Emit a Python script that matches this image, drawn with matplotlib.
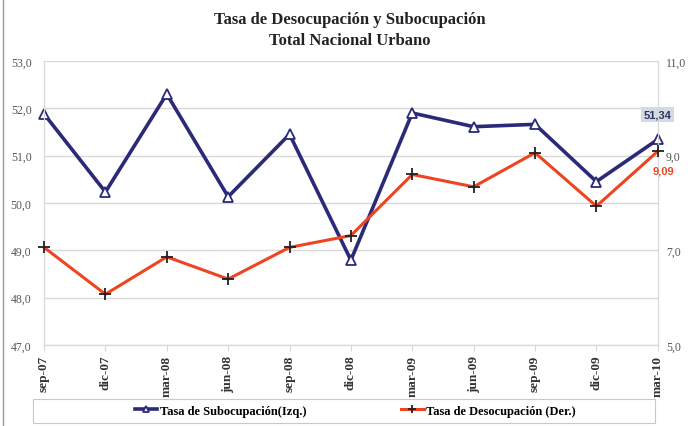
import numpy as np
import matplotlib.pyplot as plt
from matplotlib.patches import Rectangle

periods = ['sep-07', 'dic-07', 'mar-08', 'jun-08', 'sep-08', 'dic-08',
           'mar-09', 'jun-09', 'sep-09', 'dic-09', 'mar-10']
subocupacion = [51.88, 50.23, 52.30, 50.13, 51.45, 48.79, 51.90, 51.61, 51.66, 50.45, 51.34]
desocupacion = [7.06, 6.07, 6.86, 6.39, 7.06, 7.31, 8.60, 8.34, 9.06, 7.93, 9.09]

left_ticks = [47, 48, 49, 50, 51, 52, 53]
right_ticks = [5, 7, 9, 11]

navy = '#2B2A78'
orange = '#EE4520'
grid_gray = '#D8D8D8'
text_gray = '#555555'
serif = ['Liberation Serif', 'DejaVu Serif']

fig = plt.figure(figsize=(6.99, 4.27), dpi=100, facecolor='white')
ax = fig.add_axes([0.063, 0.19, 0.878, 0.665])
ax2 = ax.twinx()

x = np.arange(len(periods))

ax.set_ylim(47, 53)
ax.set_xlim(0, len(periods) - 1)
ax.set_yticks(left_ticks)
ax.set_yticklabels([f'{v:.1f}'.replace('.', ',') for v in left_ticks],
                   family=serif, fontsize=8.5, color=text_gray)
ax.grid(axis='y', color=grid_gray, lw=1)
ax.set_axisbelow(True)

ax2.set_ylim(5, 11)
ax2.set_yticks(right_ticks)
ax2.set_yticklabels([f'{v:.1f}'.replace('.', ',') for v in right_ticks],
                    family=serif, fontsize=8.5, color=text_gray)

for a in (ax, ax2):
    for s in a.spines.values():
        s.set_color(grid_gray)
    a.spines['top'].set_visible(False)
ax.tick_params(axis='y', length=0, pad=9)
ax2.tick_params(axis='y', length=0, pad=6)

ax.set_xticks(x)
ax.set_xticklabels(periods, rotation=90, family=serif, fontsize=9.5,
                   fontweight='bold', color='#333333')
ax.tick_params(axis='x', length=4, color=grid_gray, pad=3)

l1, = ax.plot(x, subocupacion, color=navy, lw=2.6, marker='^', markersize=7,
              markerfacecolor='white', markeredgecolor=navy, markeredgewidth=1.3,
              clip_on=False, zorder=5, label='Tasa de Subocupación(Izq.)')
l2, = ax2.plot(x, desocupacion, color=orange, lw=2.2, marker='+', markersize=9,
               markeredgecolor='#222222', markeredgewidth=1.3, clip_on=False,
               zorder=4, label='Tasa de Desocupación (Der.)')

ax.annotate(f'{subocupacion[-1]:.2f}'.replace('.', ','), (x[-1], subocupacion[-1]),
            xytext=(0, 18), textcoords='offset points', ha='center', va='center',
            fontsize=8, fontweight='bold', color='#2E3560',
            family=['Liberation Sans', 'DejaVu Sans'],
            bbox=dict(boxstyle='square,pad=0.25', fc='#D3DAE4', ec='none'))
ax2.annotate(f'{desocupacion[-1]:.2f}'.replace('.', ','), (x[-1], desocupacion[-1]),
             xytext=(4, -14), textcoords='offset points', ha='center', va='center',
             fontsize=8, fontweight='bold', color=orange,
             family=['Liberation Sans', 'DejaVu Sans'])

fig.text(0.5, 0.953, 'Tasa de Desocupación y Subocupación', ha='center', va='center',
         family=serif, fontsize=12, fontweight='bold', color='#222222')
fig.text(0.5, 0.905, 'Total Nacional Urbano', ha='center', va='center',
         family=serif, fontsize=12, fontweight='bold', color='#222222')

# legend frame drawn separately to match the wide box
fig.add_artist(Rectangle((0.047, 0.007), 0.89, 0.057, transform=fig.transFigure,
                         fc='white', ec='#C8C8C8', lw=0.8))
fig.legend(handles=[l1, l2], loc='center', bbox_to_anchor=(0.508, 0.036),
           ncol=2, frameon=False, columnspacing=7.6, markerscale=0.6,
           handlelength=1.8, handletextpad=0.2,
           prop={'family': serif, 'weight': 'bold', 'size': 9})

fig.add_artist(plt.Line2D([0.004, 0.004], [0, 1], transform=fig.transFigure,
                          color='#999999', lw=1))

fig.savefig('out.png', dpi=100, facecolor='white')
